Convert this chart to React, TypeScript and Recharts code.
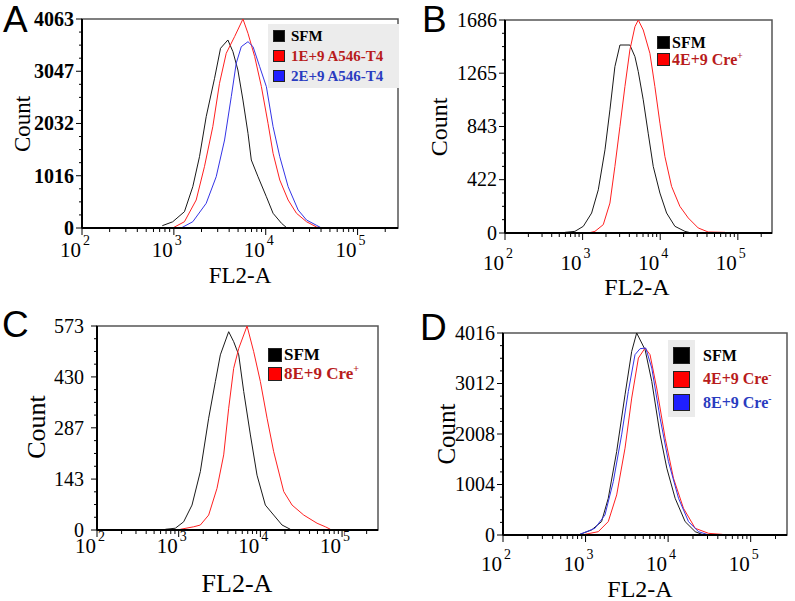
import React from 'react';
import { LineChart, Line, XAxis, YAxis, ReferenceArea, Legend } from 'recharts';

const SERIF = '"Liberation Serif", "Times New Roman", serif';
const SANS = '"Liberation Sans", Arial, sans-serif';

// x values are log10(FL2-A), y values are counts
// Panel A
const aSfmX = [2.874, 2.987, 3.115, 3.206, 3.279, 3.352, 3.443, 3.508, 3.588, 3.643, 3.697, 3.752, 3.807, 3.843, 3.916, 4.007, 4.08, 4.172, 4.225, 4.26];
const aSfmY = [45, 120, 317, 803, 1386, 2164, 2910, 3493, 3655, 3428, 3072, 2488, 1841, 1322, 997, 608, 286, 91, 10, 0];
const a1X = [2.987, 3.115, 3.243, 3.333, 3.424, 3.497, 3.57, 3.661, 3.752, 3.807, 3.88, 3.953, 4.025, 4.08, 4.153, 4.244, 4.335, 4.444, 4.553, 4.608];
const a1Y = [0, 122, 544, 1192, 1970, 2813, 3396, 3720, 4063, 3784, 3331, 2748, 2035, 1452, 933, 544, 286, 122, 20, 0];
const a2X = [3.079, 3.206, 3.352, 3.461, 3.552, 3.625, 3.679, 3.734, 3.807, 3.862, 3.934, 4.007, 4.08, 4.153, 4.244, 4.353, 4.444, 4.553, 4.608];
const a2Y = [0, 122, 480, 997, 1711, 2553, 3202, 3525, 3622, 3525, 3137, 2748, 1970, 1386, 803, 350, 155, 52, 0];
const aYTicks = [0, 1016, 2032, 3047, 4063];

// Panel B
const bSfmX = [2.773, 2.901, 3.009, 3.116, 3.202, 3.288, 3.352, 3.416, 3.481, 3.609, 3.674, 3.717, 3.781, 3.845, 3.91, 3.996, 4.082, 4.189, 4.318, 4.403];
const bSfmY = [5, 13, 53, 158, 342, 658, 975, 1317, 1488, 1488, 1396, 1277, 1054, 790, 527, 316, 158, 53, 13, 0];
const bCreX = [3.073, 3.159, 3.266, 3.352, 3.416, 3.481, 3.545, 3.609, 3.674, 3.717, 3.781, 3.867, 3.931, 3.996, 4.06, 4.146, 4.253, 4.361, 4.489, 4.618, 4.833, 4.854];
const bCreY = [0, 13, 66, 237, 527, 843, 1159, 1449, 1633, 1686, 1607, 1422, 1159, 869, 606, 369, 211, 119, 40, 8, 5, 0];
const bYTicks = [0, 422, 843, 1265, 1686];

// Panel C
const cSfmX = [2.837, 2.959, 3.061, 3.163, 3.265, 3.367, 3.449, 3.51, 3.612, 3.673, 3.735, 3.796, 3.878, 3.959, 4.061, 4.163, 4.265, 4.367];
const cSfmY = [2, 5, 23, 70, 164, 314, 417, 492, 557, 529, 492, 389, 267, 154, 70, 42, 14, 2];
const cCreX = [3.02, 3.184, 3.265, 3.367, 3.469, 3.551, 3.612, 3.673, 3.735, 3.837, 3.918, 4.0, 4.082, 4.163, 4.286, 4.388, 4.531, 4.694, 4.796, 4.857];
const cCreY = [2, 9, 14, 42, 117, 211, 342, 454, 510, 573, 501, 417, 314, 220, 108, 70, 42, 19, 9, 2];
const cYTicks = [0, 143, 287, 430, 573];

// Panel D
const dSfmX = [2.931, 3.073, 3.194, 3.275, 3.377, 3.478, 3.559, 3.619, 3.721, 3.802, 3.903, 3.984, 4.085, 4.206, 4.328, 4.429];
const dSfmY = [13, 100, 266, 730, 1660, 2788, 3651, 4016, 3684, 3054, 1991, 1328, 730, 266, 66, 0];
const d4X = [2.992, 3.154, 3.275, 3.377, 3.478, 3.559, 3.64, 3.721, 3.781, 3.862, 3.964, 4.065, 4.186, 4.328, 4.49, 4.652, 4.692];
const d4Y = [13, 66, 266, 797, 1726, 2722, 3518, 3717, 3585, 2921, 1925, 1128, 531, 133, 33, 13, 0];
const d8X = [2.931, 3.113, 3.235, 3.336, 3.437, 3.518, 3.599, 3.66, 3.729, 3.802, 3.903, 4.004, 4.126, 4.247, 4.368, 4.47, 4.51];
const d8Y = [13, 133, 398, 1062, 1991, 2854, 3585, 3704, 3717, 3319, 2323, 1460, 730, 266, 66, 13, 0];
const dYTicks = [0, 1004, 2008, 3012, 4016];

const X_DOMAIN: [number, number] = [2, 5.44];

const BLACK = '#1a1a1a';
const RED = '#ff2020';
const BLUE = '#3434e6';

type Series = { name: string; sup?: string; color: string; swatch: string; text: string; xs: number[]; ys: number[] };

const toPts = (xs: number[], ys: number[]) => xs.map((x, i) => ({ x, y: ys[i] }));

const xTicksAll: number[] = (() => {
  const out: number[] = [];
  for (let d = 2; d <= 5; d++) {
    for (let k = 1; k <= 9; k++) {
      const v = d + Math.log10(k);
      if (v <= X_DOMAIN[1]) out.push(+v.toFixed(5));
    }
  }
  return out;
})();

const yTicksAll = (majors: number[]) => {
  const out: number[] = [];
  for (let i = 0; i < majors.length; i++) {
    out.push(majors[i]);
    if (i < majors.length - 1) {
      for (let k = 1; k < 4; k++) out.push(+(majors[i] + ((majors[i + 1] - majors[i]) * k) / 4).toFixed(2));
    }
  }
  return out;
};

function XTick(props: any) {
  const { x, y, payload, base } = props;
  const v = payload.value;
  const major = Math.abs(v - Math.round(v)) < 1e-6;
  return (
    <g>
      <line x1={x} x2={x} y1={y} y2={y + (major ? 7 : 4)} stroke="#000" strokeWidth={1} />
      {major && (
        <text x={x - 1} y={y + base} textAnchor="end" fontSize={21} fontFamily={SERIF} fill="#000">
          10
        </text>
      )}
      {major && (
        <text x={x + 1} y={y + base - 12} textAnchor="start" fontSize={14} fontFamily={SERIF} fill="#000">
          {Math.round(v)}
        </text>
      )}
    </g>
  );
}

function YTick(props: any) {
  const { x, y, payload, majors, gap, bold } = props;
  const v = payload.value;
  const major = majors.includes(v);
  return (
    <g>
      <line x1={x} x2={x - (major ? 6 : 3)} y1={y} y2={y} stroke="#000" strokeWidth={1} />
      {major && (
        <text x={x - gap} y={y} dy="0.34em" textAnchor="end" fontSize={20} fontWeight={bold ? 'bold' : 'normal'} fontFamily={SERIF} fill="#000">
          {v}
        </text>
      )}
    </g>
  );
}

type LegendCfg = { left: number; top: number; rowH: number; sw: number; font: number; gap: number; padL: number; boxBg?: string; boxW?: number; colBg?: { left: number; top: number; w: number; h: number } };

type PanelCfg = {
  letter: string;
  letterPos: { left: number; top: number };
  left: number; top: number; width: number; height: number;
  margin: { top: number; right: number; left: number; bottom: number };
  yAxisWidth: number;
  yMajors: number[];
  yGap: number;
  bold: boolean;
  xBase: number;
  countPos: { x: number; y: number; size: number };
  flPos: { x: number; y: number; size: number };
  legend: LegendCfg;
  series: Series[];
};

const panels: PanelCfg[] = [
  {
    letter: 'A', letterPos: { left: 3, top: 1 },
    left: 0, top: 0, width: 400, height: 300,
    margin: { top: 19, right: 2, left: 0, bottom: 22 },
    yAxisWidth: 82, yMajors: aYTicks, yGap: 8, bold: true, xBase: 29,
    countPos: { x: 22, y: 124, size: 23 }, flPos: { x: 240, y: 283, size: 23 },
    legend: { left: 268, top: 24, rowH: 20, sw: 12, font: 15, gap: 6, padL: 5, boxBg: '#ececec', boxW: 131 },
    series: [
      { name: 'SFM', color: BLACK, swatch: '#000', text: '#000', xs: aSfmX, ys: aSfmY },
      { name: '1E+9 A546-T4', color: RED, swatch: '#ff0000', text: '#b81c1c', xs: a1X, ys: a1Y },
      { name: '2E+9 A546-T4', color: BLUE, swatch: '#1f1fff', text: '#2a3cc0', xs: a2X, ys: a2Y },
    ],
  },
  {
    letter: 'B', letterPos: { left: 422, top: 1 },
    left: 400, top: 0, width: 395, height: 300,
    margin: { top: 20, right: 23, left: 0, bottom: 17 },
    yAxisWidth: 105, yMajors: bYTicks, yGap: 8, bold: false, xBase: 37,
    countPos: { x: 39, y: 127, size: 24 }, flPos: { x: 237, y: 295, size: 24 },
    legend: { left: 257, top: 34, rowH: 17, sw: 13, font: 16, gap: 2, padL: 0 },
    series: [
      { name: 'SFM', color: BLACK, swatch: '#000', text: '#000', xs: bSfmX, ys: bSfmY },
      { name: '4E+9 Cre', sup: '+', color: RED, swatch: '#ff0000', text: '#b81c1c', xs: bCreX, ys: bCreY },
    ],
  },
  {
    letter: 'C', letterPos: { left: 2, top: 306 },
    left: 0, top: 300, width: 400, height: 301,
    margin: { top: 26, right: 22, left: 0, bottom: 21 },
    yAxisWidth: 97, yMajors: cYTicks, yGap: 13, bold: false, xBase: 23,
    countPos: { x: 36, y: 127, size: 26 }, flPos: { x: 237, y: 292, size: 26 },
    legend: { left: 268, top: 45, rowH: 19, sw: 14, font: 17, gap: 2, padL: 0 },
    series: [
      { name: 'SFM', color: BLACK, swatch: '#000', text: '#000', xs: cSfmX, ys: cSfmY },
      { name: '8E+9 Cre', sup: '+', color: RED, swatch: '#ff0000', text: '#b81c1c', xs: cCreX, ys: cCreY },
    ],
  },
  {
    letter: 'D', letterPos: { left: 420, top: 309 },
    left: 400, top: 300, width: 395, height: 301,
    margin: { top: 33, right: 8, left: 0, bottom: 16 },
    yAxisWidth: 103, yMajors: dYTicks, yGap: 8, bold: false, xBase: 36,
    countPos: { x: 47, y: 134, size: 25 }, flPos: { x: 240, y: 297, size: 24 },
    legend: { left: 268, top: 44, rowH: 23.5, sw: 17, font: 16, gap: 13, padL: 5, colBg: { left: 0, top: -4, w: 27, h: 77 } },
    series: [
      { name: 'SFM', color: BLACK, swatch: '#000', text: '#000', xs: dSfmX, ys: dSfmY },
      { name: '4E+9 Cre', sup: '-', color: RED, swatch: '#ff0000', text: '#b81c1c', xs: d4X, ys: d4Y },
      { name: '8E+9 Cre', sup: '-', color: BLUE, swatch: '#1f1fff', text: '#2a3cc0', xs: d8X, ys: d8Y },
    ],
  },
];

function LegendBox({ cfg, series }: { cfg: LegendCfg; series: Series[] }) {
  return (
    <div style={{ position: 'relative', background: cfg.boxBg || 'transparent', width: cfg.boxW, padding: cfg.boxBg ? '2px 0' : 0 }}>
      {cfg.colBg && (
        <div style={{ position: 'absolute', left: cfg.colBg.left, top: cfg.colBg.top, width: cfg.colBg.w, height: cfg.colBg.h, background: '#ebebeb' }} />
      )}
      {series.map((s) => (
        <div key={s.name + (s.sup || '')} style={{ position: 'relative', display: 'flex', alignItems: 'center', height: cfg.rowH, paddingLeft: cfg.padL }}>
          <span style={{ display: 'inline-block', width: cfg.sw, height: cfg.sw, background: s.swatch, border: '1px solid #222', boxSizing: 'border-box', marginRight: cfg.gap, flex: 'none' }} />
          <span style={{ fontFamily: SERIF, fontWeight: 'bold', fontSize: cfg.font, color: s.text, whiteSpace: 'nowrap', lineHeight: 1 }}>
            {s.name}
            {s.sup && <sup style={{ fontSize: '0.6em', verticalAlign: 'super', lineHeight: 0 }}>{s.sup}</sup>}
          </span>
        </div>
      ))}
    </div>
  );
}

function Panel({ p }: { p: PanelCfg }) {
  const yMax = p.yMajors[p.yMajors.length - 1];
  return (
    <div style={{ position: 'absolute', left: p.left, top: p.top, width: p.width, height: p.height }}>
      <LineChart width={p.width} height={p.height} margin={p.margin}>
        <XAxis
          type="number"
          dataKey="x"
          domain={X_DOMAIN}
          ticks={xTicksAll}
          interval={0}
          allowDataOverflow
          height={50}
          tickSize={0}
          tickMargin={0}
          tickLine={false}
          axisLine={{ stroke: '#000', strokeWidth: 2 }}
          tick={(t: any) => <XTick {...t} base={p.xBase} />}
          label={() => (
            <text x={p.flPos.x} y={p.flPos.y} textAnchor="middle" fontSize={p.flPos.size} fontFamily={SERIF} fill="#000">
              FL2-A
            </text>
          )}
        />
        <YAxis
          type="number"
          domain={[0, yMax]}
          ticks={yTicksAll(p.yMajors)}
          interval={0}
          allowDataOverflow
          width={p.yAxisWidth}
          tickSize={0}
          tickMargin={0}
          tickLine={false}
          axisLine={{ stroke: '#000', strokeWidth: 2 }}
          tick={(t: any) => <YTick {...t} majors={p.yMajors} gap={p.yGap} bold={p.bold} />}
          label={() => (
            <text
              x={p.countPos.x}
              y={p.countPos.y}
              transform={`rotate(-90 ${p.countPos.x} ${p.countPos.y})`}
              textAnchor="middle"
              dy="0.33em"
              fontSize={p.countPos.size}
              fontFamily={SERIF}
              fill="#000"
            >
              Count
            </text>
          )}
        />
        <ReferenceArea x1={X_DOMAIN[0]} x2={X_DOMAIN[1]} y1={0} y2={yMax} fill="none" fillOpacity={0} stroke="#555" strokeWidth={1.5} ifOverflow="visible" />
        {p.series.map((s) => (
          <Line
            key={s.name + (s.sup || '')}
            data={toPts(s.xs, s.ys)}
            dataKey="y"
            name={s.name}
            type="linear"
            stroke={s.color}
            strokeWidth={1}
            dot={false}
            activeDot={false}
            isAnimationActive={false}
          />
        ))}
        <Legend
          layout="horizontal"
          verticalAlign="middle"
          align="center"
          wrapperStyle={{ left: p.legend.left, top: p.legend.top, width: 'auto', height: 'auto', right: 'auto', bottom: 'auto' }}
          content={() => <LegendBox cfg={p.legend} series={p.series} />}
        />
      </LineChart>
      <div
        style={{
          position: 'absolute',
          left: p.letterPos.left - p.left,
          top: p.letterPos.top - p.top,
          fontFamily: SANS,
          fontSize: 37,
          lineHeight: '37px',
          color: '#000',
        }}
      >
        {p.letter}
      </div>
    </div>
  );
}

export default function App() {
  return (
    <div style={{ position: 'absolute', left: 0, top: 0, width: 795, height: 601, background: '#fff', overflow: 'hidden' }}>
      {panels.map((p) => (
        <Panel key={p.letter} p={p} />
      ))}
    </div>
  );
}
